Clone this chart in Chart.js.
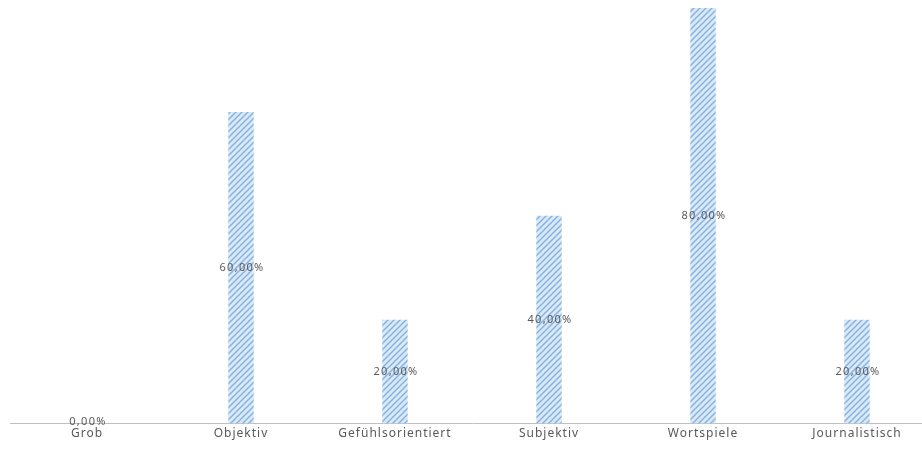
<!DOCTYPE html>
<html>
<head>
<meta charset="utf-8">
<script src="https://cdn.jsdelivr.net/npm/chart.js@4.4.0/dist/chart.umd.min.js"></script>
<style>
  html, body { margin: 0; padding: 0; background: #fff; overflow: hidden; }
  #wrap { width: 922px; height: 452px; overflow: hidden; }
</style>
</head>
<body>
<div id="wrap"><canvas id="chart" width="934" height="452"></canvas></div>
<script>
// ========== DATA ==========
const categories = ['Grob', 'Objektiv', 'Gefühlsorientiert', 'Subjektiv', 'Wortspiele', 'Journalistisch'];
const shares = [0, 0.6, 0.2, 0.4, 0.8, 0.2];

// diagonal hatch like the Excel pattern fill
function makeHatch() {
    const c = document.createElement('canvas');
    c.width = 6; c.height = 6;
    const g = c.getContext('2d');
    g.fillStyle = '#dbe8f6';
    g.fillRect(0, 0, 6, 6);
    g.strokeStyle = '#86b4e2';
    g.lineWidth = 1.5;
    g.beginPath();
    g.moveTo(-1, 7); g.lineTo(7, -1);
    g.moveTo(-1, 1); g.lineTo(1, -1);
    g.moveTo(5, 7); g.lineTo(7, 5);
    g.stroke();
    return g.createPattern(c, 'repeat');
}

// wider letter spacing for the axis text (Calibri-ish look)
const spacing = {
    id: 'spacing',
    beforeDraw(chart) { chart.ctx.letterSpacing = '1px'; }
};

// percent labels in the middle of each bar
const midLabels = {
    id: 'midLabels',
    afterDatasetsDraw(chart) {
        const ctx = chart.ctx;
        const meta = chart.getDatasetMeta(0);
        ctx.save();
        ctx.letterSpacing = '1.3px';
        ctx.font = '11px "Noto Sans"';
        ctx.fillStyle = '#595959';
        ctx.textAlign = 'center';
        ctx.textBaseline = 'middle';
        meta.data.forEach((bar, i) => {
            const txt = (shares[i] * 100).toFixed(2).replace('.', ',') + '%';
            const y = shares[i] === 0 ? bar.base - 2 : (bar.y + bar.base) / 2;
            ctx.fillText(txt, bar.x + 1, y);
        });
        ctx.restore();
    }
};

const ctx = document.getElementById('chart').getContext('2d');
new Chart(ctx, {
    type: 'bar',
    data: {
        labels: categories,
        datasets: [{
            data: shares,
            backgroundColor: makeHatch(),
            borderWidth: 0,
            barPercentage: 0.5,
            categoryPercentage: 0.33
        }]
    },
    options: {
        responsive: false,
        animation: false,
        plugins: { legend: { display: false }, tooltip: { enabled: false } },
        layout: { padding: { left: 10, right: 0, top: 8, bottom: 8 } },
        scales: {
            y: { display: false, min: 0, max: 0.8 },
            x: {
                grid: { display: false, drawTicks: false },
                border: { color: '#bfbfbf', width: 1 },
                ticks: { color: '#595959', font: { family: '"Noto Sans"', size: 12 }, padding: 3, maxRotation: 0 }
            }
        }
    },
    plugins: [spacing, midLabels]
});
</script>
</body>
</html>
